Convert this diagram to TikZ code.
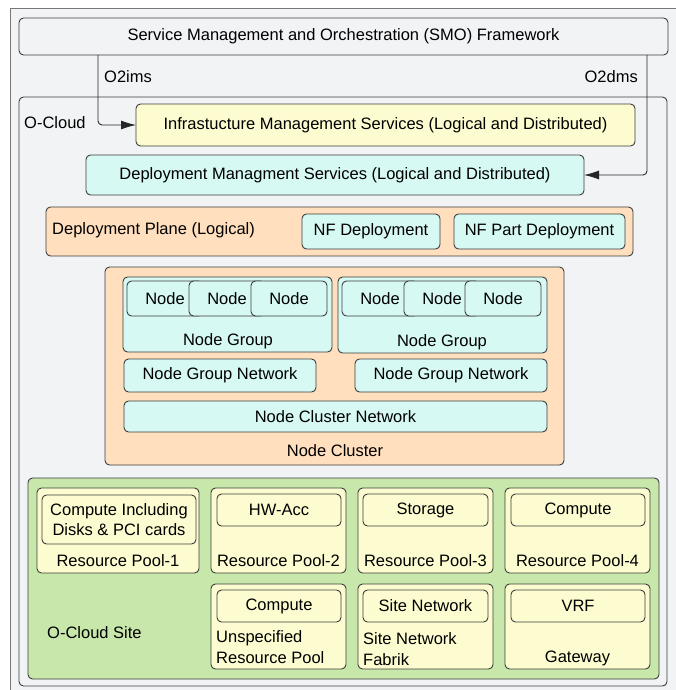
\documentclass[tikz,border=0pt]{standalone}
\usepackage{fontspec}
\setmainfont{Liberation Sans}
\usetikzlibrary{arrows.meta}
\definecolor{bg}{RGB}{242,243,245}
\definecolor{yel}{RGB}{253,252,208}
\definecolor{cya}{RGB}{214,249,243}
\definecolor{ora}{RGB}{255,223,189}
\definecolor{grn}{RGB}{200,231,171}
\definecolor{linec}{RGB}{60,60,60}
\definecolor{framec}{RGB}{120,120,120}
\newcommand\rbox[7]{\node[rb,fill=#2,minimum width={#5-#3},minimum height={#6-#4},anchor=north west] (#1) at (#3,#4) {#7};}
\begin{document}
\begin{tikzpicture}[x=1pt,y=-1pt,font=\fontsize{16.5}{20.5}\selectfont,
  rb/.style={draw=linec,line width=0.9pt,rounded corners=4.5pt,inner sep=0pt,outer sep=0pt,align=center,text=black},
  lbl/.style={inner sep=0pt,align=left,text=black},
  conn/.style={draw=black!85,line width=0.9pt,rounded corners=4pt,-{Latex[length=15pt,width=9pt]}}]
\useasboundingbox (0,0) rectangle (676,690);
\begin{scope}
\clip (0,0) rectangle (676,690);
\fill[white] (0,0) rectangle (676,690);
\draw[fill=bg,draw=framec,line width=0.9pt] (10,8) rectangle (700,720);
\end{scope}
% SMO
\rbox{smo}{bg}{19}{18}{668}{55}{Service Management and Orchestration (SMO) Framework}
% O-Cloud
\rbox{ocloud}{bg}{19}{97}{667}{686}{}
\node[lbl,anchor=west] (ocl) at (24,123) {O-Cloud};
\node[lbl,anchor=west] (o2ims) at (104,77) {O2ims};
\node[lbl,anchor=east] (o2dms) at (638,77) {O2dms};
\rbox{ims}{yel}{136}{104}{635}{146}{Infrastucture Management Services (Logical and Distributed)}
\rbox{dms}{cya}{86}{155}{584}{195}{Deployment Managment Services (Logical and Distributed)}
\coordinate (o2imsx) at (98,0);
\coordinate (o2dmsx) at (647,0);
\draw[conn] (smo.south -| o2imsx) |- (ims.west);
\draw[conn] (smo.south -| o2dmsx) |- (dms.east);
% Deployment plane
\rbox{dp}{ora}{46}{207}{633}{256}{}
\node[lbl,anchor=west] (dpl) at (52,230) {Deployment Plane (Logical)};
\rbox{nfd}{cya}{302}{214}{440}{249}{NF Deployment}
\rbox{nfpd}{cya}{454}{214}{625}{249}{NF Part Deployment}
% Node cluster
\rbox{nc}{ora}{105}{267}{564}{465}{}
\node[lbl] (ncl) at (335,451) {Node Cluster};
\rbox{ng1}{cya}{123}{277}{332}{352}{}
\node[lbl] (ng1l) at (228,341) {Node Group};
\rbox{ng2}{cya}{338}{277}{547}{353}{}
\node[lbl] (ng2l) at (442,342) {Node Group};
\rbox{n11}{cya}{127}{281}{203}{316}{Node}
\rbox{n12}{cya}{189}{281}{265}{316}{Node}
\rbox{n13}{cya}{251}{281}{327}{316}{Node}
\rbox{n21}{cya}{342}{281}{418}{316}{Node}
\rbox{n22}{cya}{404}{281}{480}{316}{Node}
\rbox{n23}{cya}{465}{281}{541}{316}{Node}
\rbox{ngn1}{cya}{124}{359}{316}{392}{Node Group Network}
\rbox{ngn2}{cya}{355}{359}{547}{392}{Node Group Network}
\rbox{ncn}{cya}{124}{401}{547}{432}{Node Cluster Network}
% O-Cloud site
\rbox{site}{grn}{28}{478}{659}{679}{}
\node[lbl,anchor=west] (sitel) at (47,633) {O-Cloud Site};
\rbox{rp1}{yel}{37}{488}{199}{573}{}
\rbox{rp1i}{yel}{42}{495}{196}{544}{Compute Including\\Disks \& PCI cards}
\node[lbl] (rp1l) at (118,561) {Resource Pool-1};
\rbox{rp2}{yel}{211}{488}{346}{573}{}
\rbox{rp2i}{yel}{217}{494}{341}{526}{HW-Acc}
\node[lbl] (rp2l) at (278.5,561) {Resource Pool-2};
\rbox{rp3}{yel}{358}{488}{493}{573}{}
\rbox{rp3i}{yel}{363}{494}{488}{526}{Storage}
\node[lbl] (rp3l) at (425.5,561) {Resource Pool-3};
\rbox{rp4}{yel}{505}{488}{650}{573}{}
\rbox{rp4i}{yel}{511}{494}{645}{526}{Compute}
\node[lbl] (rp4l) at (577.5,561) {Resource Pool-4};
\rbox{urp}{yel}{211}{584}{346}{669}{}
\rbox{urpi}{yel}{217}{590}{341}{622}{Compute}
\node[lbl,anchor=west] (urpl) at (216,647) {Unspecified\\Resource Pool};
\rbox{snf}{yel}{358}{584}{493}{669}{}
\rbox{snfi}{yel}{363}{590}{488}{622}{Site Network}
\node[lbl,anchor=west] (snfl) at (363,649) {Site Network\\Fabrik};
\rbox{gw}{yel}{505}{584}{650}{669}{}
\rbox{gwi}{yel}{511}{590}{645}{622}{VRF}
\node[lbl] (gwl) at (577.5,658) {Gateway};
\end{tikzpicture}
\end{document}
